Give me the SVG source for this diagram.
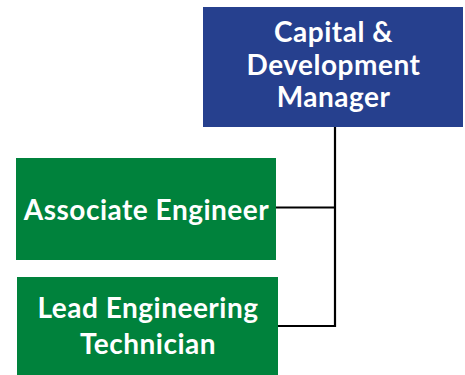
<svg xmlns="http://www.w3.org/2000/svg" width="465" height="375" viewBox="0 0 465 375">
  <style>
    .label { font-family: Lato, "Open Sans", "Liberation Sans", sans-serif; font-weight: bold; font-size: 28px; letter-spacing: 0.5px; fill: #ffffff; text-anchor: middle; }
    .manager { fill: #26408E; }
    .staff { fill: #00823C; }
    .link { fill: none; stroke: #000000; stroke-width: 2.2; }
  </style>
  <rect width="465" height="375" fill="#ffffff"/>

  <!-- reporting lines -->
  <g id="connectors">
    <path class="link" d="M335 127 V326 H278"/>
    <path class="link" d="M335 207.5 H276"/>
  </g>

  <g id="capital-development-manager">
    <rect class="manager" x="203" y="7" width="260" height="120"/>
    <text class="label" x="333.5" y="42">Capital &amp;</text>
    <text class="label" x="333.5" y="75">Development</text>
    <text class="label" x="333.5" y="107">Manager</text>
  </g>

  <g id="associate-engineer">
    <rect class="staff" x="16" y="158" width="260" height="102"/>
    <text class="label" x="146.5" y="220">Associate Engineer</text>
  </g>

  <g id="lead-engineering-technician">
    <rect class="staff" x="17" y="277" width="261" height="98"/>
    <text class="label" x="148" y="318">Lead Engineering</text>
    <text class="label" x="148" y="354">Technician</text>
  </g>
</svg>
